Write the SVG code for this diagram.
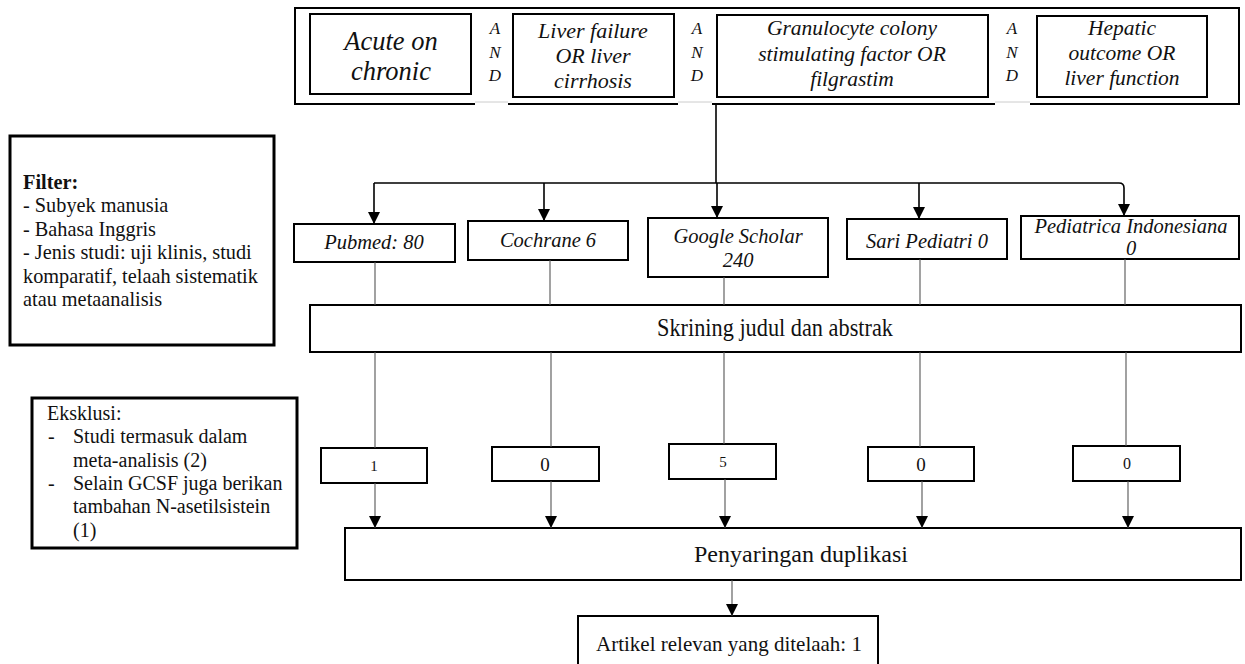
<svg xmlns="http://www.w3.org/2000/svg" width="1245" height="664" viewBox="0 0 1245 664">
<defs>
<style>
.box{fill:#fff;stroke:#000;stroke-width:2}
.thick{fill:#fff;stroke:#000;stroke-width:3}
.t{font-family:"Liberation Serif","Times New Roman",serif;fill:#111}
.it{font-style:italic}
.c{text-anchor:middle}
.and{font-family:"Liberation Serif","Times New Roman",serif;font-style:italic;font-size:17px;text-anchor:middle;fill:#111}
.main{stroke:#000;stroke-width:1.6;fill:none}
.thin{stroke:#555;stroke-width:1.1;fill:none}
</style>
<marker id="ad" markerUnits="userSpaceOnUse" markerWidth="12" markerHeight="12" viewBox="0 0 12 12" refX="6" refY="12" orient="0">
<path d="M0,0 L12,0 L6,12 Z" fill="#000"/>
</marker>
</defs>
<rect width="1245" height="664" fill="#fff"/>

<g id="search">
<rect class="box" x="295" y="8" width="944" height="96"/>
<rect x="475" y="101" width="33" height="6" fill="#fff"/>
<rect x="678" y="101" width="34" height="6" fill="#fff"/>
<rect x="995" y="101" width="35" height="6" fill="#fff"/>
<line x1="475" y1="102" x2="508" y2="102" stroke="#ccc" stroke-width="1"/>
<line x1="678" y1="102" x2="712" y2="102" stroke="#ccc" stroke-width="1"/>
<line x1="995" y1="102" x2="1030" y2="102" stroke="#ccc" stroke-width="1"/>
</g>

<g id="term1">
<rect class="box" x="310" y="14" width="161" height="80"/>
<text class="t it c" x="391" y="50" font-size="26.5">Acute on</text>
<text class="t it c" x="391" y="80" font-size="26.5">chronic</text>
</g>
<g id="and1">
<text class="and" x="495" y="34">A</text>
<text class="and" x="495" y="58">N</text>
<text class="and" x="495" y="81">D</text>
</g>
<g id="term2">
<rect class="box" x="513" y="14" width="161" height="83"/>
<text class="t it c" x="593" y="38" font-size="22">Liver failure</text>
<text class="t it c" x="593" y="63" font-size="22">OR liver</text>
<text class="t it c" x="593" y="88" font-size="22">cirrhosis</text>
</g>
<g id="and2">
<text class="and" x="697" y="34">A</text>
<text class="and" x="697" y="58">N</text>
<text class="and" x="697" y="81">D</text>
</g>
<g id="term3">
<rect class="box" x="717" y="15" width="271" height="82"/>
<text class="t it c" x="852" y="35" font-size="21.5">Granulocyte colony</text>
<text class="t it c" x="852" y="61" font-size="21.5">stimulating factor OR</text>
<text class="t it c" x="852" y="86" font-size="21.5">filgrastim</text>
</g>
<g id="and3">
<text class="and" x="1012" y="34">A</text>
<text class="and" x="1012" y="58">N</text>
<text class="and" x="1012" y="81">D</text>
</g>
<g id="term4">
<rect class="box" x="1037" y="16" width="170" height="81"/>
<text class="t it c" x="1122" y="35" font-size="21.5">Hepatic</text>
<text class="t it c" x="1122" y="60" font-size="21.5">outcome OR</text>
<text class="t it c" x="1122" y="85" font-size="21.5">liver function</text>
</g>

<g id="filter">
<rect class="thick" x="10" y="136" width="264" height="209"/>
<text class="t" x="23" y="189" font-size="20.3" font-weight="bold">Filter:</text>
<text class="t" x="23" y="212" font-size="20.3">- Subyek manusia</text>
<text class="t" x="23" y="236" font-size="20.3">- Bahasa Inggris</text>
<text class="t" x="23" y="259" font-size="20.3">- Jenis studi: uji klinis, studi</text>
<text class="t" x="23" y="283" font-size="20.3">komparatif, telaah sistematik</text>
<text class="t" x="23" y="306" font-size="20.3">atau metaanalisis</text>
</g>

<g id="pubmed">
<rect class="box" x="294" y="224" width="161" height="38"/>
<text class="t it c" x="374" y="249" font-size="20.5">Pubmed: 80</text>
</g>
<g id="cochrane">
<rect class="box" x="468" y="221" width="160" height="39"/>
<text class="t it c" x="548" y="247" font-size="20.5">Cochrane 6</text>
</g>
<g id="google">
<rect class="box" x="648" y="218" width="180" height="59"/>
<text class="t it c" x="738" y="243" font-size="20.5">Google Scholar</text>
<text class="t it c" x="738" y="267" font-size="20.5">240</text>
</g>
<g id="sari">
<rect class="box" x="847" y="219" width="160" height="40"/>
<text class="t it c" x="927" y="248" font-size="20.5">Sari Pediatri 0</text>
</g>
<g id="pediatrica">
<rect class="box" x="1021" y="216" width="218" height="43"/>
<text class="t it c" x="1131" y="233" font-size="20.5">Pediatrica Indonesiana</text>
<text class="t it c" x="1131" y="255" font-size="20.5">0</text>
</g>

<g id="skrining">
<rect class="box" x="310" y="305" width="931" height="47"/>
<text class="t c" x="775" y="336" font-size="25" textLength="236" lengthAdjust="spacingAndGlyphs">Skrining judul dan abstrak</text>
</g>

<g id="eksklusi">
<rect class="thick" x="32" y="398" width="265" height="150"/>
<text class="t" x="47" y="420" font-size="20">Eksklusi:</text>
<text class="t" x="48" y="443" font-size="20">-</text>
<text class="t" x="73" y="443" font-size="20">Studi termasuk dalam</text>
<text class="t" x="73" y="467" font-size="20">meta-analisis (2)</text>
<text class="t" x="48" y="490" font-size="20">-</text>
<text class="t" x="73" y="490" font-size="20">Selain GCSF juga berikan</text>
<text class="t" x="73" y="513" font-size="20">tambahan N-asetilsistein</text>
<text class="t" x="73" y="537" font-size="20">(1)</text>
</g>

<g id="ex1">
<rect class="box" x="321" y="448" width="106" height="35"/>
<text class="t c" x="374" y="471" font-size="15">1</text>
</g>
<g id="ex2">
<rect class="box" x="492" y="447" width="107" height="34"/>
<text class="t c" x="545" y="471" font-size="19">0</text>
</g>
<g id="ex3">
<rect class="box" x="669" y="444" width="107" height="35"/>
<text class="t c" x="723" y="467" font-size="15">5</text>
</g>
<g id="ex4">
<rect class="box" x="868" y="447" width="106" height="34"/>
<text class="t c" x="921" y="471" font-size="19">0</text>
</g>
<g id="ex5">
<rect class="box" x="1073" y="446" width="107" height="35"/>
<text class="t c" x="1127" y="469" font-size="16">0</text>
</g>

<g id="penyaringan">
<rect class="box" x="345" y="528" width="896" height="52"/>
<text class="t c" x="801" y="562" font-size="24">Penyaringan duplikasi</text>
</g>

<g id="artikel">
<rect class="box" x="578" y="616" width="300" height="54"/>
<text class="t c" x="729" y="651" font-size="21">Artikel relevan yang ditelaah: 1</text>
</g>

<g id="connectors">
<line class="main" x1="716" y1="104" x2="716" y2="183"/>
<path class="main" d="M374,183 H1119 Q1124,183 1124,188 V216" marker-end="url(#ad)"/>
<line class="main" x1="374" y1="183" x2="374" y2="224" marker-end="url(#ad)"/>
<line class="main" x1="544" y1="183" x2="544" y2="221" marker-end="url(#ad)"/>
<line class="main" x1="717" y1="183" x2="717" y2="218" marker-end="url(#ad)"/>
<line class="main" x1="919" y1="183" x2="919" y2="219" marker-end="url(#ad)"/>

<line class="thin" x1="375" y1="262" x2="375" y2="305"/>
<line class="thin" x1="550" y1="260" x2="550" y2="305"/>
<line class="thin" x1="724" y1="277" x2="724" y2="305"/>
<line class="thin" x1="920" y1="259" x2="920" y2="305"/>
<line class="thin" x1="1125" y1="259" x2="1125" y2="305"/>

<line class="thin" x1="375" y1="352" x2="375" y2="448"/>
<line class="thin" x1="551" y1="352" x2="551" y2="447"/>
<line class="thin" x1="724" y1="352" x2="724" y2="444"/>
<line class="thin" x1="920" y1="352" x2="920" y2="447"/>
<line class="thin" x1="1126" y1="352" x2="1126" y2="446"/>

<line class="thin" x1="375" y1="483" x2="375" y2="528" marker-end="url(#ad)"/>
<line class="thin" x1="551" y1="481" x2="551" y2="528" marker-end="url(#ad)"/>
<line class="thin" x1="725" y1="479" x2="725" y2="528" marker-end="url(#ad)"/>
<line class="thin" x1="922" y1="481" x2="922" y2="528" marker-end="url(#ad)"/>
<line class="thin" x1="1128" y1="481" x2="1128" y2="528" marker-end="url(#ad)"/>

<line class="thin" x1="732" y1="580" x2="732" y2="616" marker-end="url(#ad)"/>
</g>
</svg>
